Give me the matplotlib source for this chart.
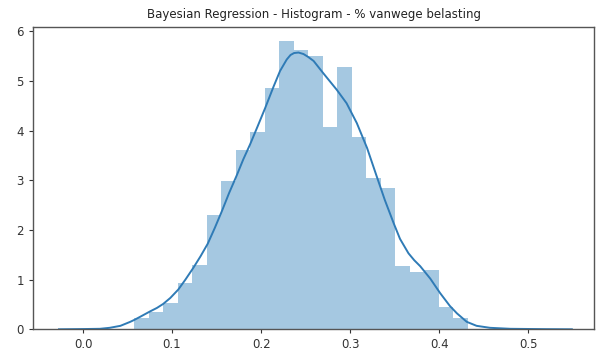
import numpy as np
import matplotlib
matplotlib.use("Agg")
import matplotlib.pyplot as plt

# Histogram (density)
bin_start = 0.0576
bin_width = 0.01628
bar_heights = [0.22, 0.35, 0.52, 0.94, 1.30, 2.30, 2.99, 3.61, 3.98, 4.86,
               5.81, 5.63, 5.51, 4.07, 5.27, 3.88, 3.04, 2.84, 1.27, 1.16,
               1.20, 0.45, 0.22]

# KDE curve
kde_x = [-0.027, 0.0, 0.019, 0.030, 0.042, 0.053, 0.0577, 0.064, 0.0753, 0.083,
         0.090, 0.098, 0.107, 0.115, 0.124, 0.132, 0.140, 0.148, 0.156, 0.164,
         0.1727, 0.180, 0.1876, 0.196, 0.2045, 0.2139, 0.2213, 0.2288, 0.233, 0.237,
         0.242, 0.2476, 0.253, 0.259, 0.270, 0.285, 0.296, 0.3075, 0.319, 0.330,
         0.339, 0.349, 0.356, 0.3655, 0.372, 0.3787, 0.390, 0.401, 0.412, 0.420,
         0.431, 0.442, 0.457, 0.480, 0.520, 0.549]
kde_y = [0.0, 0.005, 0.01, 0.03, 0.07, 0.15, 0.19, 0.25, 0.36, 0.43,
         0.51, 0.63, 0.80, 1.00, 1.24, 1.47, 1.72, 2.04, 2.38, 2.74,
         3.10, 3.42, 3.72, 4.08, 4.45, 4.88, 5.20, 5.43, 5.52, 5.56,
         5.57, 5.54, 5.48, 5.40, 5.15, 4.82, 4.55, 4.15, 3.65, 3.07,
         2.60, 2.13, 1.82, 1.53, 1.39, 1.27, 1.02, 0.73, 0.47, 0.32,
         0.15, 0.07, 0.03, 0.01, 0.003, 0.0]

title = "Bayesian Regression - Histogram - % vanwege belasting"
xticks = [0.0, 0.1, 0.2, 0.3, 0.4, 0.5]
yticks = [0, 1, 2, 3, 4, 5, 6]

fig = plt.figure(figsize=(6.05, 3.56), dpi=100)
ax = fig.add_axes([0.0545, 0.075, 0.9275, 0.85])

edges = bin_start + bin_width * np.arange(len(bar_heights))
ax.bar(edges, bar_heights, width=bin_width, align="edge",
       color="#1f77b4", alpha=0.4, linewidth=0)
ax.plot(kde_x, kde_y, color="#2f7bb6", linewidth=1.4)

ax.set_xlim(-0.0562, 0.574)
ax.set_ylim(0, 6.09)
ax.set_xticks(xticks)
ax.set_xticklabels([f"{t:.1f}" for t in xticks])
ax.set_yticks(yticks)
ax.tick_params(labelsize=8.5, colors="#333333", length=3, width=0.8)
for s in ax.spines.values():
    s.set_color("#555555")
    s.set_linewidth(1.0)
ax.set_title(title, fontsize=8.5, color="#222222", pad=6)

fig.savefig("out.png", dpi=100)
